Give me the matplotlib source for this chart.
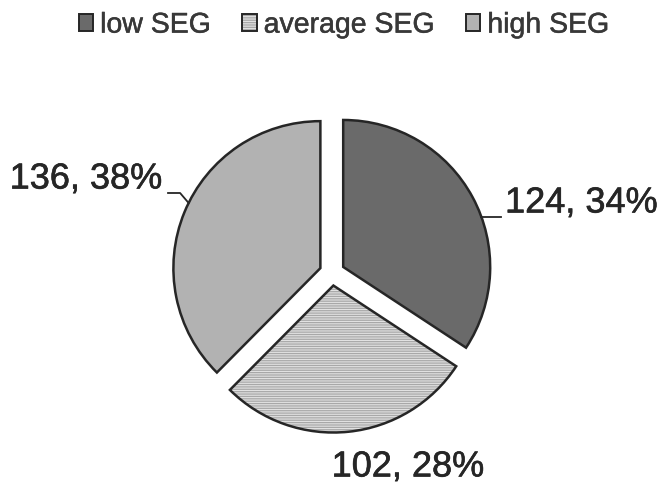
import matplotlib.pyplot as plt
import matplotlib.patheffects as pe
import numpy as np

plt.rcParams['font.family'] = ['Liberation Sans', 'DejaVu Sans']
plt.rcParams['hatch.linewidth'] = 0.9

categories = ['low SEG', 'average SEG', 'high SEG']
counts = [124, 102, 136]
percent_labels = ['34%', '28%', '38%']
colors = ['#6a6a6a', '#e2e2e2', '#b2b2b2']
hatches = [None, '-------', None]

fig = plt.figure(figsize=(6.59, 4.83), dpi=100)
ax = fig.add_axes([0, 0, 1, 1])

explode = 0.086
wedges, _ = ax.pie(counts, startangle=90, counterclock=False, radius=1.0,
                   colors=colors, explode=[explode] * len(counts),
                   wedgeprops=dict(edgecolor='#262626', linewidth=1.8))
for w, h in zip(wedges, hatches):
    if h:
        w.set_hatch(h)
        w._hatch_color = (0.66, 0.66, 0.66, 1.0)

thick = [pe.withStroke(linewidth=0.45, foreground='#262626')]


def arc_point(w, y):
    # point on the outer arc of wedge w at height y (on the side of its mid angle)
    cx, cy = w.center
    mid = np.deg2rad((w.theta1 + w.theta2) / 2)
    dx = np.sqrt(max(0.0, 1 - (y - cy) ** 2))
    return cx + np.sign(np.cos(mid)) * dx, y


# low SEG: label to the right, flat leader
low = wedges[0]
ex, ey = arc_point(low, 0.381)
ax.plot([ex, 1.15], [ey, ey], color='#262626', lw=1.3)
ax.text(1.177, 0.476, f'{counts[0]}, {percent_labels[0]}', ha='left', va='center',
        fontsize=26, color='#262626', path_effects=thick)

# high SEG: label to the left, bent leader
high = wedges[2]
ex, ey = arc_point(high, 0.476)
ax.plot([-1.116, -1.034, ex], [0.544, 0.544, ey], color='#262626', lw=1.3)
ax.text(-1.156, 0.639, f'{counts[2]}, {percent_labels[2]}', ha='right', va='center',
        fontsize=26, color='#262626', path_effects=thick)

# average SEG: label below
ax.text(0.517, -1.32, f'{counts[1]}, {percent_labels[1]}', ha='center', va='center',
        fontsize=26, color='#262626', path_effects=thick)

ax.set_xlim(-2.259, 2.224)
ax.set_ylim(-1.429, 1.857)
ax.set_aspect('equal')
ax.axis('off')

leg = fig.legend(wedges, categories, loc='center', bbox_to_anchor=(0.522, 0.947),
                 ncol=3, frameon=False, fontsize=20.5, handlelength=0.5, handleheight=0.5,
                 handletextpad=0.25, columnspacing=1.1, labelcolor='#383838')
for t in leg.get_texts():
    t.set_path_effects([pe.withStroke(linewidth=0.35, foreground='#383838')])
for hnd in leg.legend_handles:
    hnd.set_linewidth(1.4)

fig.savefig('out.png', dpi=100)
